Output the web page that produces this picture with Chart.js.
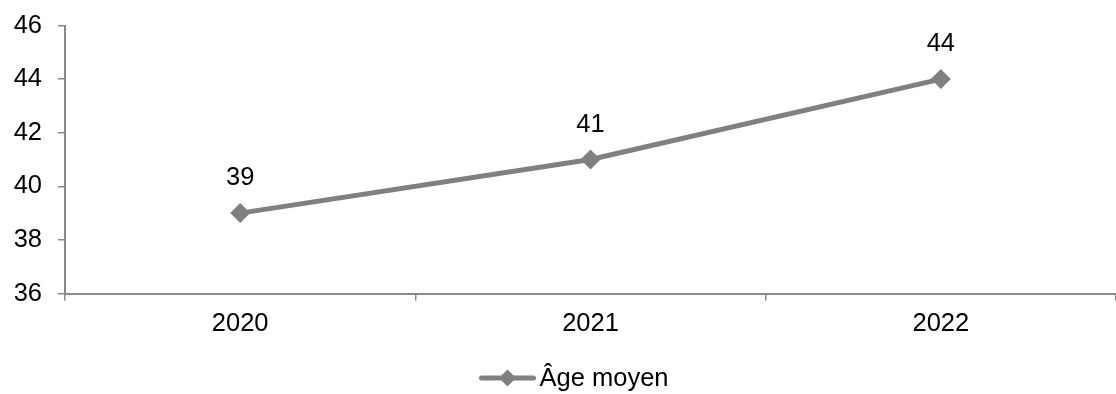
<!DOCTYPE html>
<html>
<head>
<meta charset="utf-8">
<script src="https://cdn.jsdelivr.net/npm/chart.js@4/dist/chart.umd.min.js"></script>
<style>
    html, body { margin: 0; padding: 0; background: #fff; }
    #wrap { width: 1116px; height: 394px; position: relative; }
</style>
</head>
<body>
<div id="wrap"><canvas id="ageChart"></canvas></div>
<script>
const years = ["2020", "2021", "2022"];
const ageValues = [39, 41, 44];
const seriesName = "Âge moyen";

const yMin = 36;
const yMax = 46;
const yStep = 2;

const grey = "#808080";
const axisGrey = "#898989";
const fontFamily = "'Liberation Sans', Arial, sans-serif";
const fontSize = 25.5;

// value labels above each point
const pointLabels = {
    id: "pointLabels",
    afterDatasetsDraw(chart) {
        const ctx = chart.ctx;
        const meta = chart.getDatasetMeta(0);
        ctx.save();
        ctx.font = fontSize + "px " + fontFamily;
        ctx.fillStyle = "#000";
        ctx.textAlign = "center";
        ctx.textBaseline = "middle";
        meta.data.forEach(function (pt, i) {
            ctx.fillText(String(chart.data.datasets[0].data[i]), pt.x, pt.y - 35);
        });
        ctx.restore();
    }
};

// legend: line with diamond, then series name
const lineLegend = {
    id: "lineLegend",
    afterDraw(chart) {
        const ctx = chart.ctx;
        ctx.save();
        ctx.font = fontSize + "px " + fontFamily;
        const textW = ctx.measureText(seriesName).width;
        const total = 56 + 4 + textW;
        const x0 = 574 - total / 2;
        const y = 378;

        ctx.strokeStyle = grey;
        ctx.lineWidth = 5;
        ctx.lineCap = "round";
        ctx.beginPath();
        ctx.moveTo(x0 + 2, y);
        ctx.lineTo(x0 + 54, y);
        ctx.stroke();

        ctx.fillStyle = grey;
        ctx.beginPath();
        ctx.moveTo(x0 + 28, y - 8.5);
        ctx.lineTo(x0 + 36.5, y);
        ctx.lineTo(x0 + 28, y + 8.5);
        ctx.lineTo(x0 + 19.5, y);
        ctx.closePath();
        ctx.fill();

        ctx.fillStyle = "#000";
        ctx.textBaseline = "middle";
        ctx.fillText(seriesName, x0 + 60, y + 1);
        ctx.restore();
    }
};

const ctx = document.getElementById("ageChart");

const ageChart = new Chart(ctx, {

    type: "line",

    data: {
        labels: years,
        datasets: [{
            label: seriesName,
            data: ageValues,
            borderColor: grey,
            backgroundColor: grey,
            borderWidth: 5,
            tension: 0,
            pointStyle: "rectRot",
            pointRadius: 10,
            pointHoverRadius: 10,
            pointBackgroundColor: grey,
            pointBorderColor: grey,
            pointBorderWidth: 0
        }]
    },

    options: {
        responsive: true,
        maintainAspectRatio: false,
        animation: false,
        events: [],
        layout: {
            autoPadding: false,
            padding: { top: 25.5, left: 0, right: 0, bottom: 0 }
        },
        plugins: {
            legend: { display: false },
            tooltip: { enabled: false }
        },
        scales: {
            x: {
                offset: true,
                grid: {
                    offset: true,
                    drawOnChartArea: false,
                    tickLength: 7,
                    color: axisGrey,
                    lineWidth: 1.5
                },
                border: { color: axisGrey, width: 2 },
                ticks: {
                    color: "#000",
                    padding: 8.5,
                    font: { family: fontFamily, size: fontSize }
                },
                afterFit(scale) {
                    scale.height = 100.5;
                    scale.paddingLeft = 0;
                    scale.paddingRight = 0;
                }
            },
            y: {
                min: yMin,
                max: yMax,
                grid: {
                    drawOnChartArea: false,
                    tickLength: 7,
                    color: axisGrey,
                    lineWidth: 1.5
                },
                border: { color: axisGrey, width: 2 },
                ticks: {
                    stepSize: yStep,
                    color: "#000",
                    padding: 16,
                    font: { family: fontFamily, size: fontSize }
                },
                afterFit(scale) {
                    scale.width = 65;
                    scale.paddingTop = 0;
                    scale.paddingBottom = 0;
                }
            }
        }
    },

    plugins: [pointLabels, lineLegend]

});
</script>
</body>
</html>
